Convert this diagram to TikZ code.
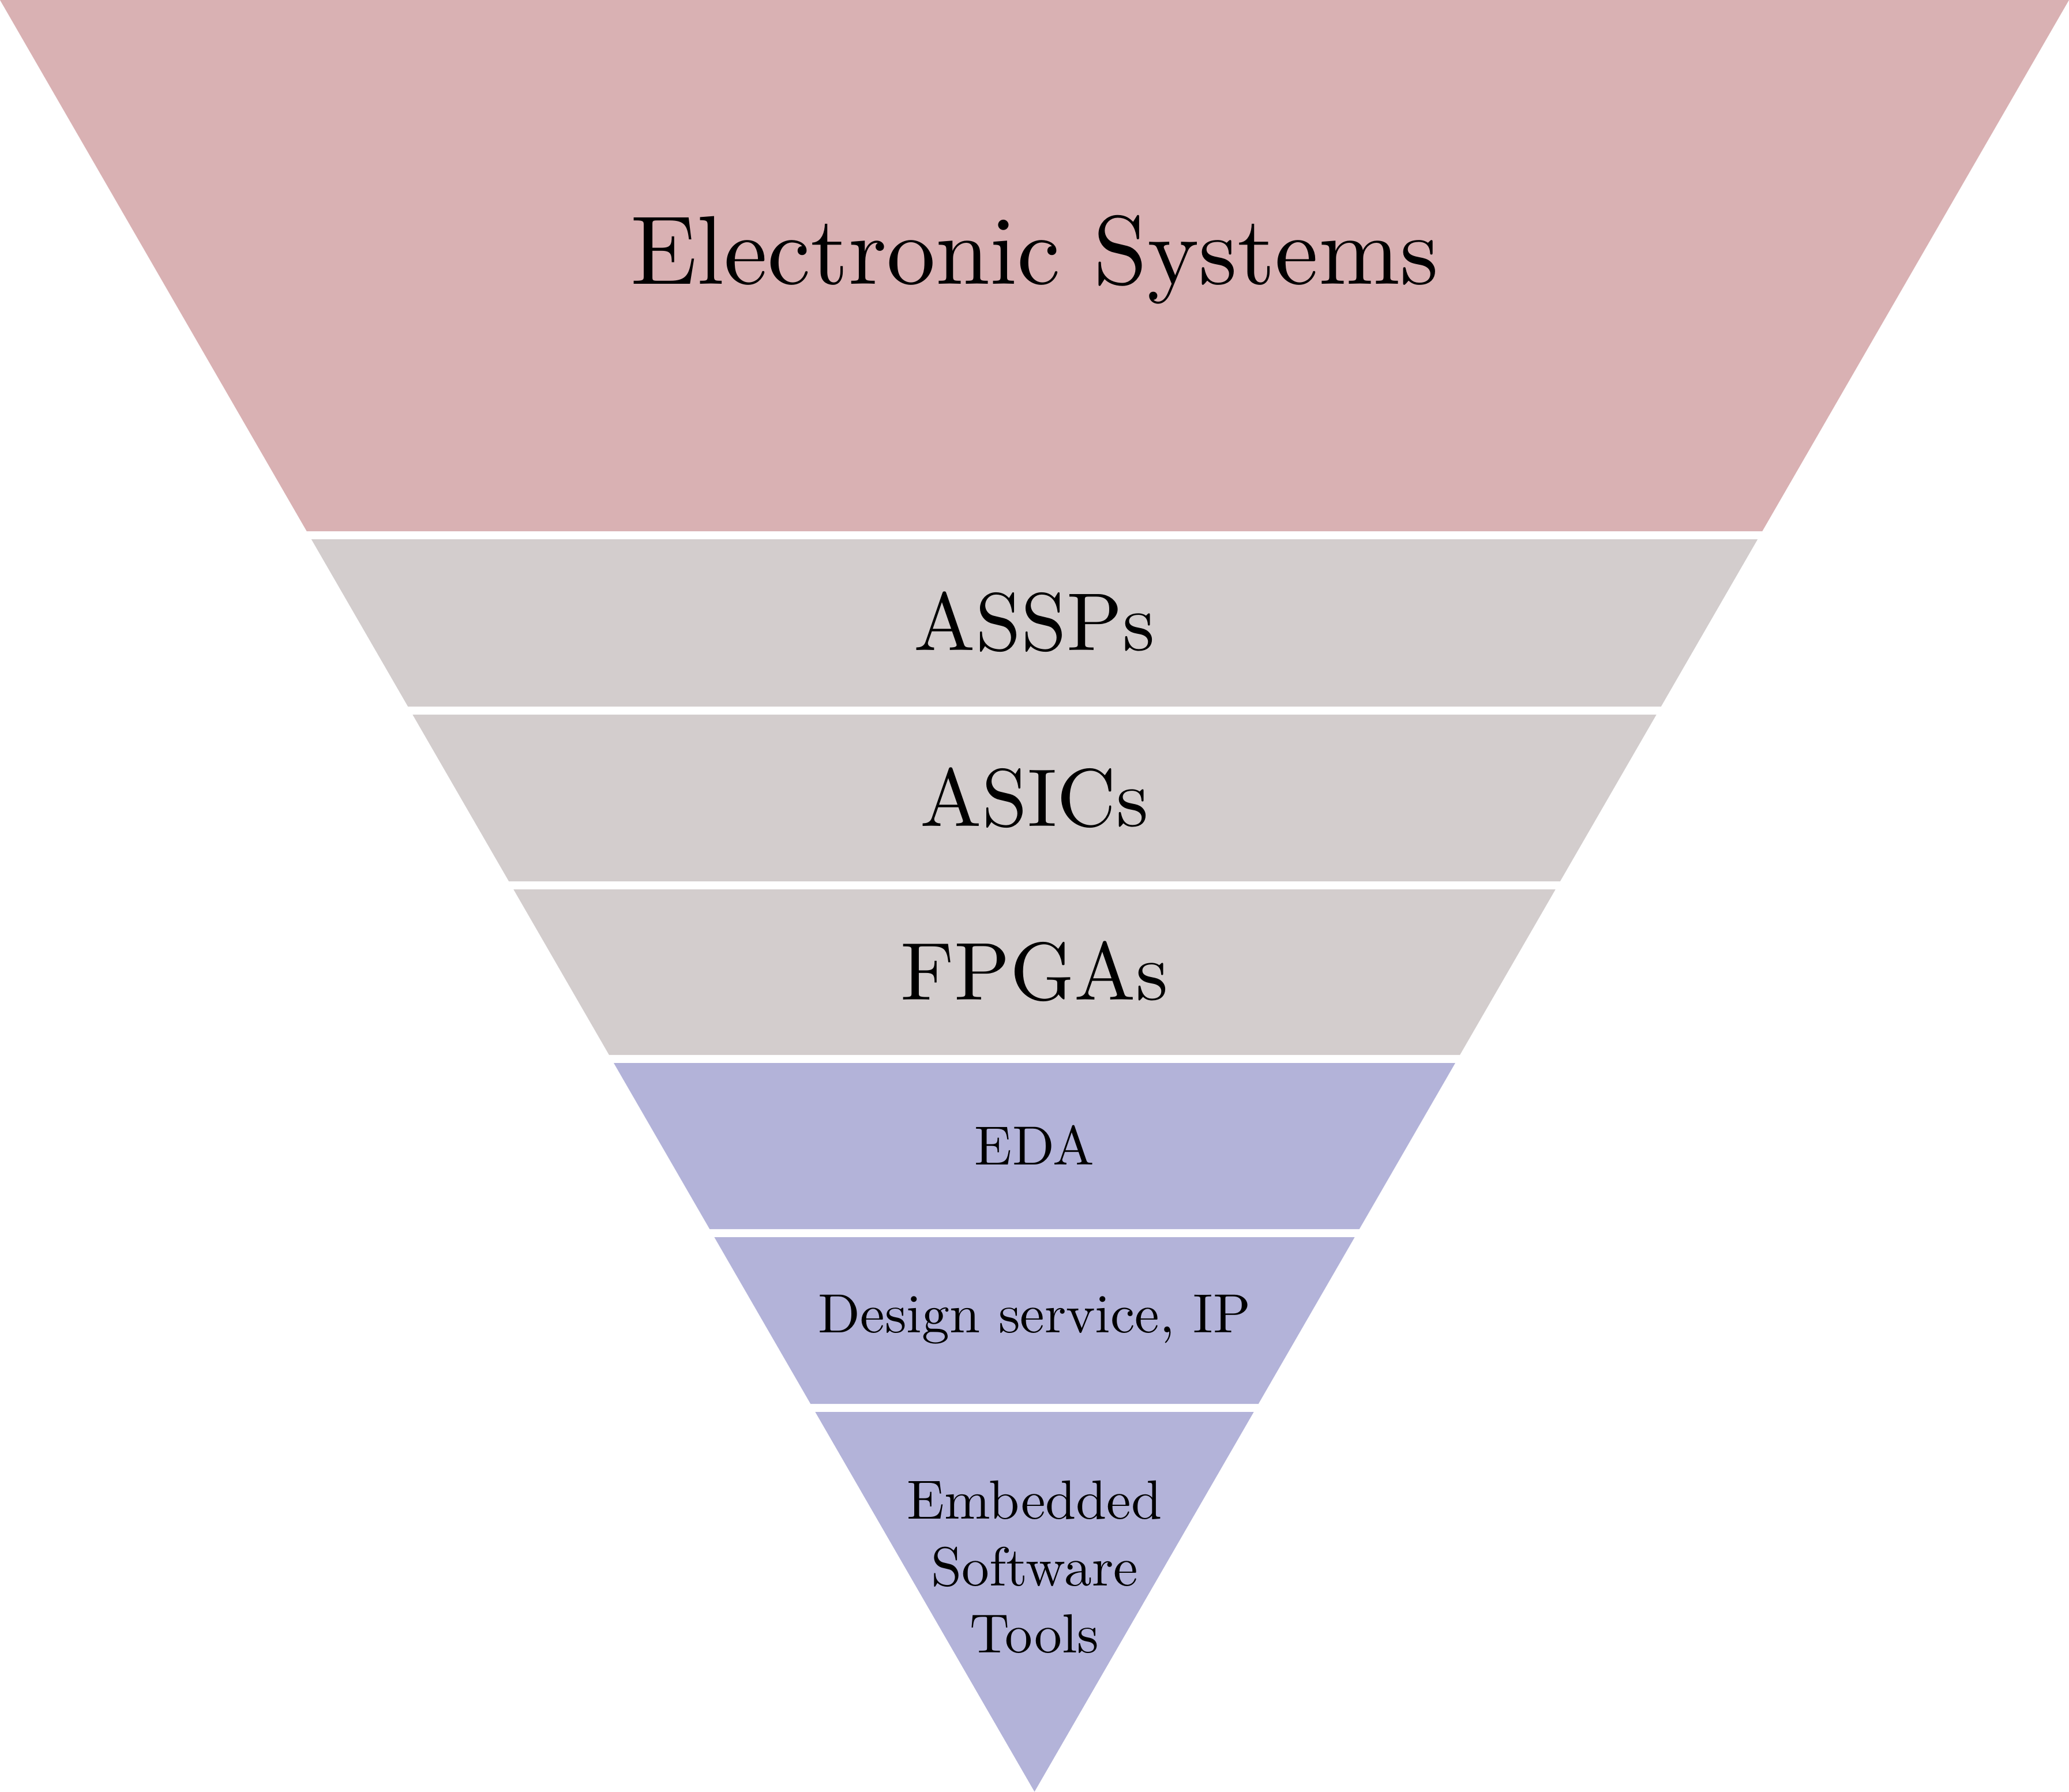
\documentclass[tikz,border=0pt]{standalone}
\usepackage{fontspec}
\setmainfont{lmroman10-regular.otf}
\definecolor{bandpink}{RGB}{217,177,179}
\definecolor{bandgray}{RGB}{211,205,205}
\definecolor{bandblue}{RGB}{179,179,217}
\newcommand{\mkband}[3]{\fill[#1] ({-#2*0.57735},#2) -- ({#2*0.57735},#2) -- ({#3*0.57735},#3) -- ({-#3*0.57735},#3) -- cycle;}
\tikzset{
  lab/.style={anchor=base, inner sep=0pt, text=black},
  hugelab/.style={lab, font=\fontsize{25.5pt}{30pt}\selectfont},
  biglab/.style={lab, font=\fontsize{21.4pt}{25pt}\selectfont},
  medlab/.style={lab, font=\fontsize{14.4pt}{17.5pt}\selectfont},
}
\begin{document}
\begin{tikzpicture}
\useasboundingbox (-9.5,0) rectangle (9.5,16.4545);
\mkband{bandpink}{11.575}{16.4545}
\mkband{bandgray}{9.965}{11.501}
\mkband{bandgray}{8.360}{9.891}
\mkband{bandgray}{6.766}{8.286}
\mkband{bandblue}{5.166}{6.692}
\mkband{bandblue}{3.561}{5.092}
\mkband{bandblue}{0}{3.487}
\node[hugelab] (es) at (0,13.848) {Electronic Systems};
\node[biglab] (assp) at (0,10.480) {ASSPs};
\node[biglab] (asic) at (0,8.868) {ASICs};
\node[biglab] (fpga) at (0,7.273) {FPGAs};
\node[medlab] (eda) at (0,5.759) {EDA};
\node[medlab] (ds) at (0,4.215) {Design service, IP};
\node[medlab, anchor=north, align=center] (est) at (0,2.864) {Embedded\\Software\\Tools};
\end{tikzpicture}
\end{document}
